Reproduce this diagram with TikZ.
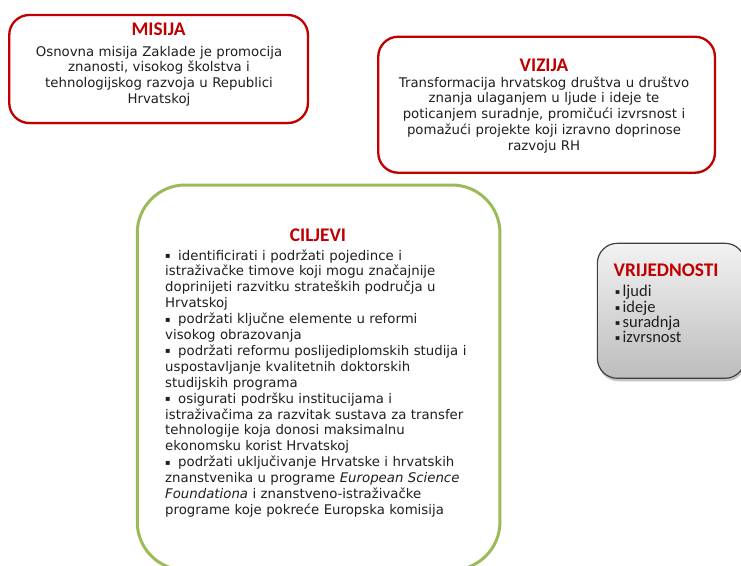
\documentclass[tikz,border=0pt]{standalone}
\usepackage{fontspec}
\setmainfont{DejaVu Sans}
\newfontfamily\calfont{Carlito}
\usetikzlibrary{shadows}
\definecolor{misred}{RGB}{192,0,0}
\definecolor{titred}{RGB}{192,0,0}
\definecolor{cilgreen}{RGB}{155,187,89}
\definecolor{vrgray}{RGB}{64,64,64}
\newcommand{\cbul}{\makebox[13pt][l]{\raisebox{1.5pt}{\fontsize{8}{8}\selectfont ▪}}}
\newcommand{\vbul}{\makebox[7.5pt][l]{\raisebox{2pt}{\rmfamily\fontsize{7.5}{8}\selectfont ▪}}}
\begin{document}
\begin{tikzpicture}[x=1pt,y=-1pt,
  redbox/.style={draw=misred, line width=2.3pt, rounded corners=20pt, fill=white, inner sep=0pt,
    drop shadow={shadow xshift=0pt, shadow yshift=-1.5pt, opacity=0.25}},
  greenbox/.style={draw=cilgreen, line width=3pt, rounded corners=48pt, fill=white, inner sep=0pt},
  graybox/.style={draw=vrgray, line width=1.2pt, rounded corners=20pt, inner sep=0pt,
    top color=white!95!black, bottom color=white!74!black,
    drop shadow={shadow xshift=1pt, shadow yshift=-3pt, opacity=0.45}},
  titletext/.style={font=\calfont\bfseries\fontsize{19.3}{22}\selectfont, text=titred, inner sep=0pt},
  bodytext/.style={font=\fontsize{13.3}{15.9}\selectfont, text=black!88, inner sep=0pt},
  valtext/.style={font=\calfont\fontsize{16.5}{15.3}\selectfont, text=black!88, inner sep=0pt,
    text width=120pt, align=left, anchor=base west}
]
\useasboundingbox (0,0) rectangle (741,565);
\fill[white] (0,0) rectangle (741,565);

% boxes
\node[redbox, minimum width=298.7pt, minimum height=108pt] (misija) at (158.6,69) {};
\node[redbox, minimum width=336.7pt, minimum height=136pt] (vizija) at (546.6,104.7) {};
\node[greenbox, minimum width=362.7pt, minimum height=385pt] (ciljevi) at (318.6,377.5) {};
\node[graybox, minimum width=147.7pt, minimum height=135pt] (vrijed) at (671.2,310.8) {};

% MISIJA
\node[titletext, anchor=base] (misijaT) at (158.5,35) {MISIJA};
\node[bodytext, anchor=base, text width=296pt, align=center] (misijaB) at (159,56)
  {Osnovna misija Zaklade je promocija\\znanosti, visokog školstva i\\tehnologijskog razvoja u Republici\\Hrvatskoj};

% VIZIJA
\node[titletext, anchor=base] (vizijaT) at (544,71.7) {VIZIJA};
\node[bodytext, anchor=base, text width=330pt, align=center] (vizijaB) at (544,87)
  {Transformacija hrvatskog društva u društvo\\znanja ulaganjem u ljude i ideje te\\poticanjem suradnje, promičući izvrsnost i\\pomažući projekte koji izravno doprinose\\razvoju RH};

% CILJEVI
\node[titletext, anchor=base] (ciljeviT) at (318,241) {CILJEVI};
\node[bodytext, anchor=base west, text width=330pt, align=left] (ciljeviB) at (165,260)
  {\cbul identificirati i podržati pojedince i\\
   istraživačke timove koji mogu značajnije\\
   doprinijeti razvitku strateških područja u\\
   Hrvatskoj\\
   \cbul podržati ključne elemente u reformi\\
   visokog obrazovanja\\
   \cbul podržati reformu poslijediplomskih studija i\\
   uspostavljanje kvalitetnih doktorskih\\
   studijskih programa\\
   \cbul osigurati podršku institucijama i\\
   istraživačima za razvitak sustava za transfer\\
   tehnologije koja donosi maksimalnu\\
   ekonomsku korist Hrvatskoj\\
   \cbul podržati uključivanje Hrvatske i hrvatskih\\
   znanstvenika u programe \textit{European Science}\\
   \textit{Foundationa} i znanstveno-istraživačke\\
   programe koje pokreće Europska komisija};

% VRIJEDNOSTI
\node[titletext, anchor=base west] (vrijedT) at (613.5,276.7) {VRIJEDNOSTI};
\node[valtext] (vrijedB) at (615,296.7)
  {\vbul ljudi\\
   \vbul ideje\\
   \vbul suradnja\\
   \vbul izvrsnost};
\end{tikzpicture}
\end{document}
